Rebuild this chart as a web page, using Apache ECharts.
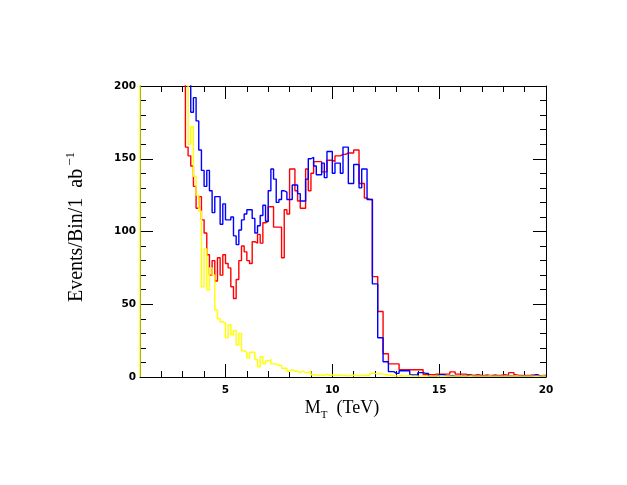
<!DOCTYPE html>
<html>
<head>
<meta charset="utf-8">
<script src="https://cdn.jsdelivr.net/npm/echarts@6/dist/echarts.min.js"></script>
<style>
html,body{margin:0;padding:0;background:#fff;}
#main{width:627px;height:485px;}
</style>
</head>
<body>
<div id="main"></div>
<script>
// histogram bins, 0.125 TeV wide; each row below covers 1 TeV
var binWidth = 0.125

var yellowStart = 1
var yellowCounts = [
  880, 770, 690, 620, 560, 510, 470, 430,
  400, 370, 345, 320, 300, 280, 262, 246,
  232, 214, 160, 172, 138, 125, 114, 62,
  88, 60, 75, 70, 46, 40, 38, 37,
  27, 36, 29, 32, 22, 30, 18, 17,
  13, 17, 17, 12, 7, 14, 9, 11,
  12, 9, 9, 8, 8, 6, 6, 4,
  5, 4, 4, 3, 4, 3, 3, 4,
  1.5, 1.5, 1, 1.5, 1, 2, 1, 1.5,
  1, 1, 1.5, 1, 1, 0.8, 1, 1.2,
  1, 0.8, 1, 1, 1.2, 1, 2.5, 2.5,
  2, 2.5, 2, 1.5, 1.5, 1, 1, 0.8,
  0.8, 1, 0.6, 0.8, 1, 0.6, 0.8, 0.6,
  0.6, 0.8, 0.6, 0.6, 0.8, 0.6, 0.6, 0.8,
  0.6, 0.6, 0.8, 0.6, 0.6, 0.6, 0.6, 0.8,
  0.6, 0.6, 0.6, 0.8, 0.6, 0.6, 0.6, 0.6,
  0.6, 0.6, 0.8, 0.6, 0.6, 0.6, 0.6, 0.6,
  0.6, 0.6, 0.6, 0.6, 0.8, 0.6, 0.6, 0.6,
  0.6, 0.6, 0.6, 0.6, 0.6, 0.6, 0.8, 0.6
]

var redStart = 3
var redCounts = [
  240, 158, 152, 145, 131, 116, 124, 108,
  99, 84, 70, 80, 66, 82, 70, 84,
  78, 75, 62, 54, 67, 80, 90, 86,
  80, 78, 93, 92, 98, 92, 106, 107,
  117, 117, 103, 103, 103, 82, 115, 112,
  143, 143, 128, 121, 116, 116, 143, 128,
  140, 148, 148, 148, 141, 141, 149, 149,
  148, 152, 152, 153, 153, 154, 154, 154,
  156, 156, 133, 133, 123, 122, 122, 69,
  69, 45, 45, 16, 16, 9, 9, 9,
  9, 5, 5, 5, 5, 5, 5, 5,
  5, 5, 1.5, 1.5, 1.5, 1.5, 2, 2,
  2, 2, 2, 2, 3.5, 3.5, 2, 2,
  2, 2, 1.5, 1.5, 1, 1.5, 1.5, 1,
  1, 1.5, 1, 1, 1.5, 1, 1, 1.5,
  1.5, 1, 3, 3, 1.5, 1, 1, 1,
  1, 1, 1.5, 1, 1, 0.8, 1, 1
]

var blueStart = 3.25
var blueCounts = [
  230, 182, 192, 176, 156, 142,
  131, 142, 128, 113, 124, 124, 105, 119,
  108, 108, 110, 97, 91, 101, 108, 112,
  115, 115, 109, 99, 104, 111, 118, 107,
  128, 143, 136, 120, 122, 128, 127, 122,
  122, 132, 132, 126, 121, 121, 136, 150,
  151, 145, 139, 139, 147, 137, 155, 155,
  140, 147, 147, 140, 158, 158, 133, 133,
  146, 146, 130, 143, 143, 122, 122, 64,
  64, 27, 27, 10.5, 10.5, 3.7, 3.7, 2.5,
  2.5, 4.3, 4.3, 4.3, 4.3, 1.4, 1.4, 1.4,
  3, 3, 2.5, 2.5, 0.6, 0.6, 0.6, 1.5,
  1.5, 1.5, 0.8, 0.8, 1, 0.6, 0.6, 0.8,
  0.8, 0.6, 1, 1, 0.6, 0.6, 0.6, 0.8,
  0.6, 0.8, 0.6, 0.6, 0.8, 0.6, 0.6, 0.6,
  0.6, 0.6, 0.8, 0.6, 0.6, 0.6, 0.8, 0.6,
  0.6, 0.6, 0.6, 1.5, 1.5, 0.6, 0.6, 0.6
]

var xMajorTicks = [5, 10, 15, 20]

function histo(start, counts, fromZero) {
  var pts = []
  if (fromZero) pts.push([start, 0])
  for (var i = 0; i < counts.length; i++) {
    pts.push([start + i * binWidth, counts[i]])
  }
  pts.push([start + counts.length * binWidth, counts[counts.length - 1]])
  return pts
}

var chart = echarts.init(document.getElementById('main'))

var black = '#000'
var tickFont = { fontFamily: 'DejaVu Sans', fontWeight: 'bold', fontSize: 10.5, color: black }

function xAx(pos, major) {
  return {
    type: 'value', position: pos, min: 1, max: 20, interval: 1,
    axisLine: { show: !major, onZero: false, lineStyle: { color: black, width: 1 } },
    axisTick: major
      ? { show: true, inside: true, length: 13, customValues: xMajorTicks, lineStyle: { color: black } }
      : { show: true, inside: true, length: 6, lineStyle: { color: black } },
    axisLabel: (pos === 'bottom' && !major) ? Object.assign({
      show: true, margin: 8,
      formatter: function (v) { return v % 5 === 0 ? String(v) : '' }
    }, tickFont) : { show: false },
    splitLine: { show: false }
  }
}

function yAx(pos) {
  return {
    type: 'value', position: pos, min: 0, max: 200, interval: 50,
    axisLine: { show: true, onZero: false, lineStyle: { color: black, width: 1 } },
    axisTick: { show: true, inside: true, length: 13, lineStyle: { color: black } },
    minorTick: { show: true, splitNumber: 5, length: 6, lineStyle: { color: black } },
    axisLabel: pos === 'left' ? Object.assign({ show: true, margin: 4 }, tickFont) : { show: false },
    splitLine: { show: false }
  }
}

chart.setOption({
  animation: false,
  backgroundColor: '#fff',
  grid: { left: 140, top: 86, right: 81, bottom: 108, containLabel: false },
  xAxis: [xAx('bottom', false), xAx('bottom', true), xAx('top', false), xAx('top', true)],
  yAxis: [yAx('left'), yAx('right')],
  graphic: [
    {
      type: 'text', x: 76, y: 227, rotation: Math.PI / 2,
      style: {
        text: '{b|Events/Bin/1  ab}{s|−1}',
        align: 'center', verticalAlign: 'middle',
        rich: {
          b: { fontFamily: 'Liberation Serif', fontSize: 20, lineHeight: 22, verticalAlign: 'bottom', fill: black },
          s: { fontFamily: 'Liberation Serif', fontSize: 13, lineHeight: 13, verticalAlign: 'bottom', padding: [0, 0, 10, 3], fill: black }
        }
      }
    },
    {
      type: 'text', x: 342, y: 411,
      style: {
        text: '{b|M}{s|T}{b|  (TeV)}',
        align: 'center', verticalAlign: 'middle',
        rich: {
          b: { fontFamily: 'Liberation Serif', fontSize: 18, lineHeight: 20, verticalAlign: 'bottom', padding: [0, 0, 4, 0], fill: black },
          s: { fontFamily: 'Liberation Serif', fontSize: 11, lineHeight: 12, verticalAlign: 'bottom', fill: black }
        }
      }
    }
  ],
  series: [
    {
      name: 'red', type: 'line', step: 'end', showSymbol: false, clip: true,
      data: histo(redStart, redCounts, false),
      lineStyle: { color: '#ff0000', width: 1.4 }, itemStyle: { color: '#ff0000' }
    },
    {
      name: 'blue', type: 'line', step: 'end', showSymbol: false, clip: true,
      data: histo(blueStart, blueCounts, false),
      lineStyle: { color: '#0000ff', width: 1.4 }, itemStyle: { color: '#0000ff' }
    },
    {
      name: 'yellow', type: 'line', step: 'end', showSymbol: false, clip: true,
      data: histo(yellowStart, yellowCounts, true),
      lineStyle: { color: '#ffff00', width: 1.4 }, itemStyle: { color: '#ffff00' }
    }
  ]
})
</script>
</body>
</html>
